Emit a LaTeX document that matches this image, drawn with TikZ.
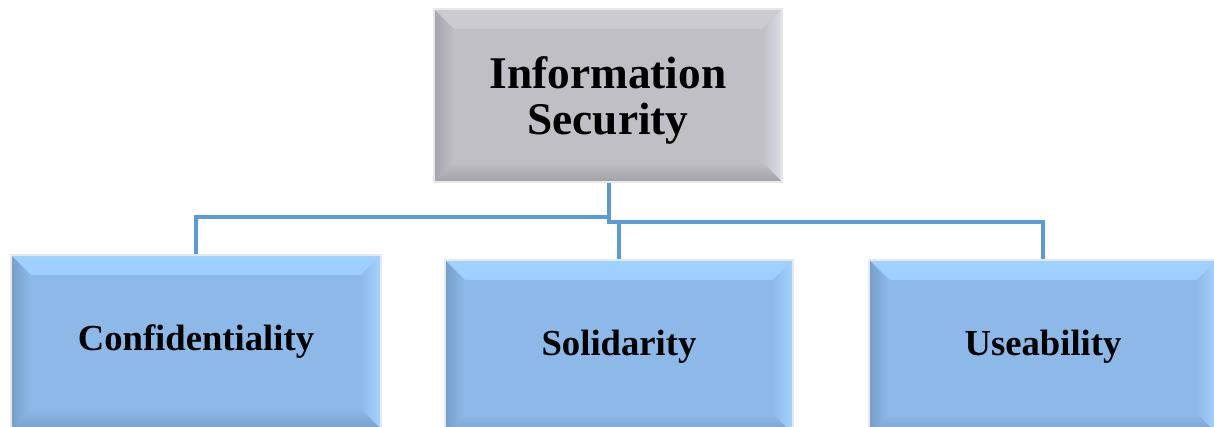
\documentclass[tikz,border=0pt]{standalone}
\usepackage{fontspec}
\setmainfont{Liberation Serif}
\usetikzlibrary{positioning}

\definecolor{linkblue}{HTML}{5B9BD5}
% gray bevel set
\definecolor{gmain}{HTML}{C0BFC6}
\definecolor{gtop}{HTML}{CDCCD3}
\definecolor{gleft}{HTML}{A6A5AD}
\definecolor{gbot}{HTML}{A2A1A8}
\definecolor{gright}{HTML}{DCDDE6}
% blue bevel set
\definecolor{bmain}{HTML}{8DB9E8}
\definecolor{btop}{HTML}{A0D2FF}
\definecolor{bleft}{HTML}{789FCC}
\definecolor{bbot}{HTML}{789FCB}
\definecolor{bright}{HTML}{A6D5FF}

\newcommand{\bevw}{15pt}

\begin{document}
\begin{tikzpicture}[x=0.75pt, y=-0.75pt,
    box/.style={rectangle, draw=black!9, line width=1.2pt, inner sep=0pt,
        align=center, font=\bfseries,
        path picture={
            \shade[top color=bvT, bottom color=bvM]
                (path picture bounding box.north west) -- (path picture bounding box.north east)
                -- ([shift={(-\bevw,-\bevw)}]path picture bounding box.north east)
                -- ([shift={(\bevw,-\bevw)}]path picture bounding box.north west) -- cycle;
            \shade[left color=bvM, right color=bvR]
                (path picture bounding box.north east) -- (path picture bounding box.south east)
                -- ([shift={(-\bevw,\bevw)}]path picture bounding box.south east)
                -- ([shift={(-\bevw,-\bevw)}]path picture bounding box.north east) -- cycle;
            \shade[top color=bvM, bottom color=bvB]
                (path picture bounding box.south east) -- (path picture bounding box.south west)
                -- ([shift={(\bevw,\bevw)}]path picture bounding box.south west)
                -- ([shift={(-\bevw,\bevw)}]path picture bounding box.south east) -- cycle;
            \shade[left color=bvL, right color=bvM]
                (path picture bounding box.south west) -- (path picture bounding box.north west)
                -- ([shift={(\bevw,-\bevw)}]path picture bounding box.north west)
                -- ([shift={(\bevw,\bevw)}]path picture bounding box.south west) -- cycle;
        }},
    graybox/.style={box, fill=gmain, minimum width=261pt, minimum height=129.75pt,
        font=\bfseries\fontsize{34}{34.5}\selectfont,
        /utils/exec={\colorlet{bvM}{gmain}\colorlet{bvT}{gtop}\colorlet{bvR}{gright}%
            \colorlet{bvB}{gbot}\colorlet{bvL}{gleft}}},
    bluebox/.style={box, fill=bmain, minimum height=130.5pt,
        font=\bfseries\fontsize{27.5}{30}\selectfont,
        /utils/exec={\colorlet{bvM}{bmain}\colorlet{bvT}{btop}\colorlet{bvR}{bright}%
            \colorlet{bvB}{bbot}\colorlet{bvL}{bleft}}},
    link/.style={draw=linkblue, line width=2.3pt}]
\useasboundingbox (0,0) rectangle (1214,426);
\clip (0,0) rectangle (1214,426);

\node[graybox] (IS) at (608,95.5) {\rule{0pt}{31pt}Information\\Security};
\node[bluebox, minimum width=277.5pt] (C) at (196,342) {Confidentiality};
\node[bluebox, minimum width=261pt] (S) at (619,347) {Solidarity};
\node[bluebox, minimum width=261pt] (U) at (1043,347) {Useability};

% junction points under the top box
\coordinate (jl) at (609,217);
\coordinate (jr) at (609,222);

\draw[link] (IS.south -| jl) -- (jr) -| (U.north);
\draw[link] (jl) -| (C.north);
\draw[link] (S.north |- jr) -- (S.north);
\end{tikzpicture}
\end{document}
